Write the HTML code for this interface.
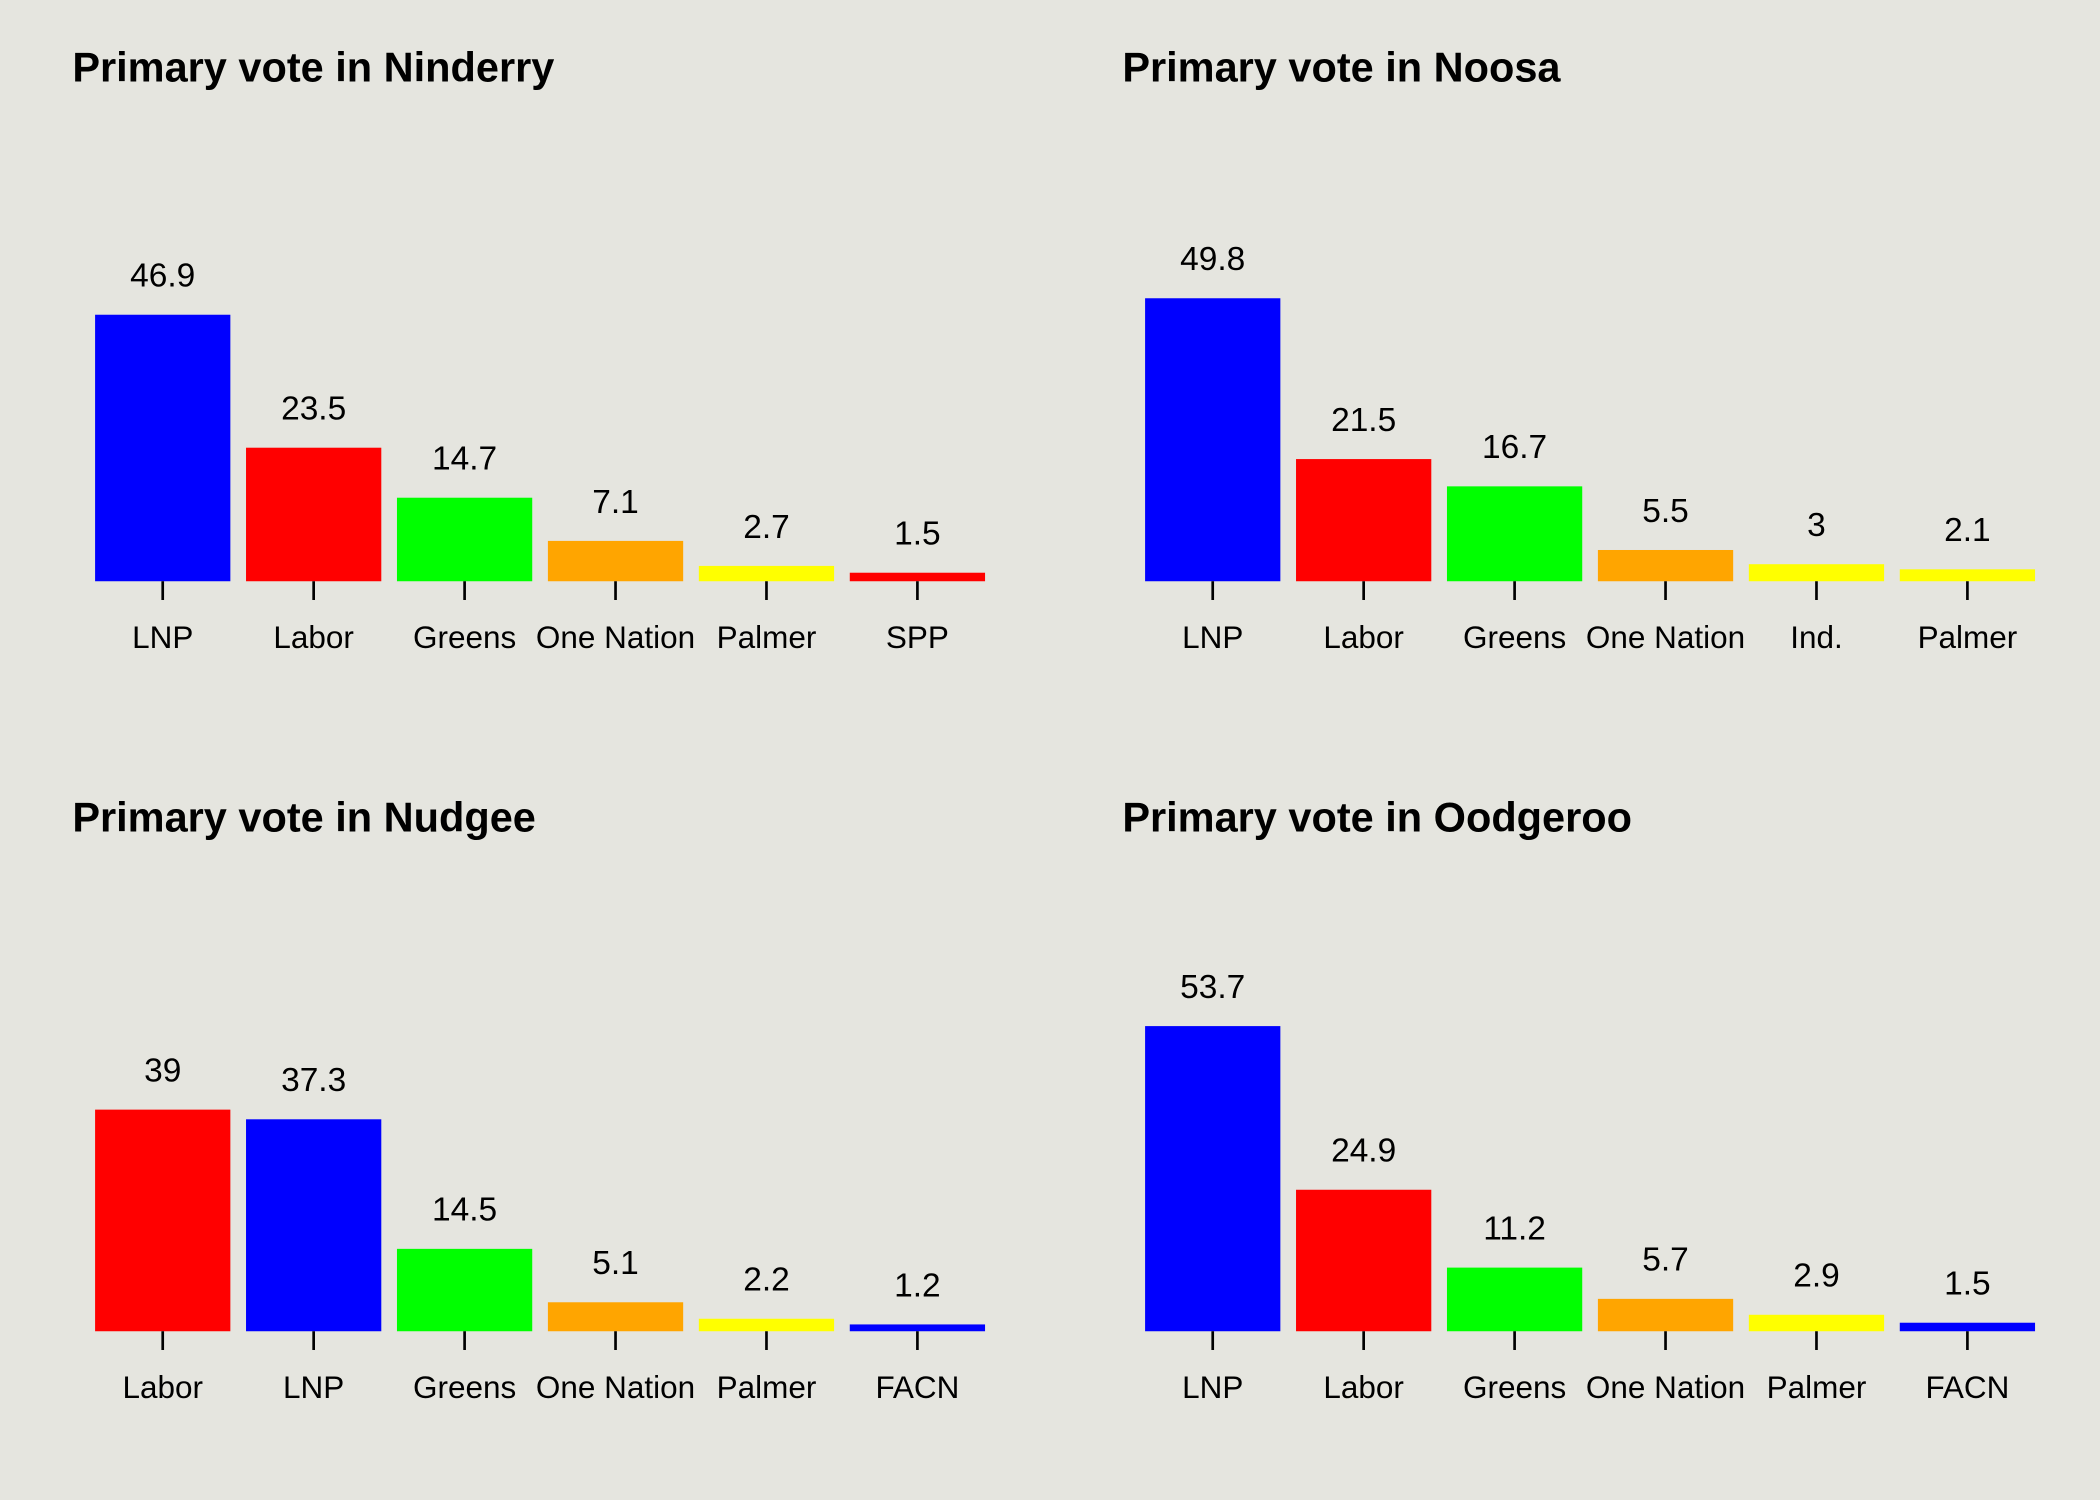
<!DOCTYPE html>
<html><head><meta charset="utf-8"><style>
html,body{margin:0;padding:0;background:#e5e5df;}
svg{display:block;}
text{font-family:"Liberation Sans",Arial,sans-serif;fill:#000;}
</style></head><body>
<svg id="chart" width="2100" height="1500" viewBox="0 0 1568 1120" xmlns="http://www.w3.org/2000/svg">
<rect width="1568" height="1120" fill="#e5e5df"/>
</svg>
<script>
const titles = ["Primary vote in Ninderry","Primary vote in Noosa","Primary vote in Nudgee","Primary vote in Oodgeroo"];
const cats1 = ["LNP","Labor","Greens","One Nation","Palmer","SPP"];
const vals1 = [46.9,23.5,14.7,7.1,2.7,1.5];
const cols1 = ["#0000ff","#ff0000","#00ff00","#ffa500","#ffff00","#ff0000"];
const cats2 = ["LNP","Labor","Greens","One Nation","Ind.","Palmer"];
const vals2 = [49.8,21.5,16.7,5.5,3,2.1];
const cols2 = ["#0000ff","#ff0000","#00ff00","#ffa500","#ffff00","#ffff00"];
const cats3 = ["Labor","LNP","Greens","One Nation","Palmer","FACN"];
const vals3 = [39,37.3,14.5,5.1,2.2,1.2];
const cols3 = ["#ff0000","#0000ff","#00ff00","#ffa500","#ffff00","#0000ff"];
const cats4 = ["LNP","Labor","Greens","One Nation","Palmer","FACN"];
const vals4 = [53.7,24.9,11.2,5.7,2.9,1.5];
const cols4 = ["#0000ff","#ff0000","#00ff00","#ffa500","#ffff00","#0000ff"];

const panels = [
  {t:titles[0],c:cats1,v:vals1,k:cols1,ox:0,base:434,ty:50},
  {t:titles[1],c:cats2,v:vals2,k:cols2,ox:784,base:434,ty:50},
  {t:titles[2],c:cats3,v:vals3,k:cols3,ox:0,base:994,ty:610},
  {t:titles[3],c:cats4,v:vals4,k:cols4,ox:784,base:994,ty:610}
];
const svg = document.getElementById('chart');
const NS = "http://www.w3.org/2000/svg";
const PXU = 4.243;
function mk(tag, attrs, txt){
  const e = document.createElementNS(NS, tag);
  for (const a in attrs) e.setAttribute(a, attrs[a]);
  if (txt !== undefined) e.textContent = txt;
  svg.appendChild(e);
  return e;
}
panels.forEach((p, pi) => {
  const xc = i => p.ox + 121.5 + i * 112.7;
  const yv = v => p.base - v * PXU;
  const t = mk('text', {x: p.ox + 54, y: p.ty + 11, 'font-size': 31, 'font-weight': 'bold'}, p.t);
  
  
  p.v.forEach((v, i) => {
    const r = mk('rect', {x: xc(i) - 50.5, y: yv(v), width: 101, height: p.base - yv(v), fill: p.k[i]});
    
    
    const lbl = mk('text', {x: xc(i), y: yv(v) - 21, 'font-size': 25, 'text-anchor': 'middle'}, String(v));
    
    
    const tk = mk('line', {x1: xc(i), x2: xc(i), y1: p.base, y2: p.base + 14, stroke: '#000', 'stroke-width': 2});
    
    
    const cl = mk('text', {x: xc(i), y: p.base + 50, 'font-size': 23.5, 'text-anchor': 'middle'}, p.c[i]);
    
    
  });
});
</script>
</body></html>
